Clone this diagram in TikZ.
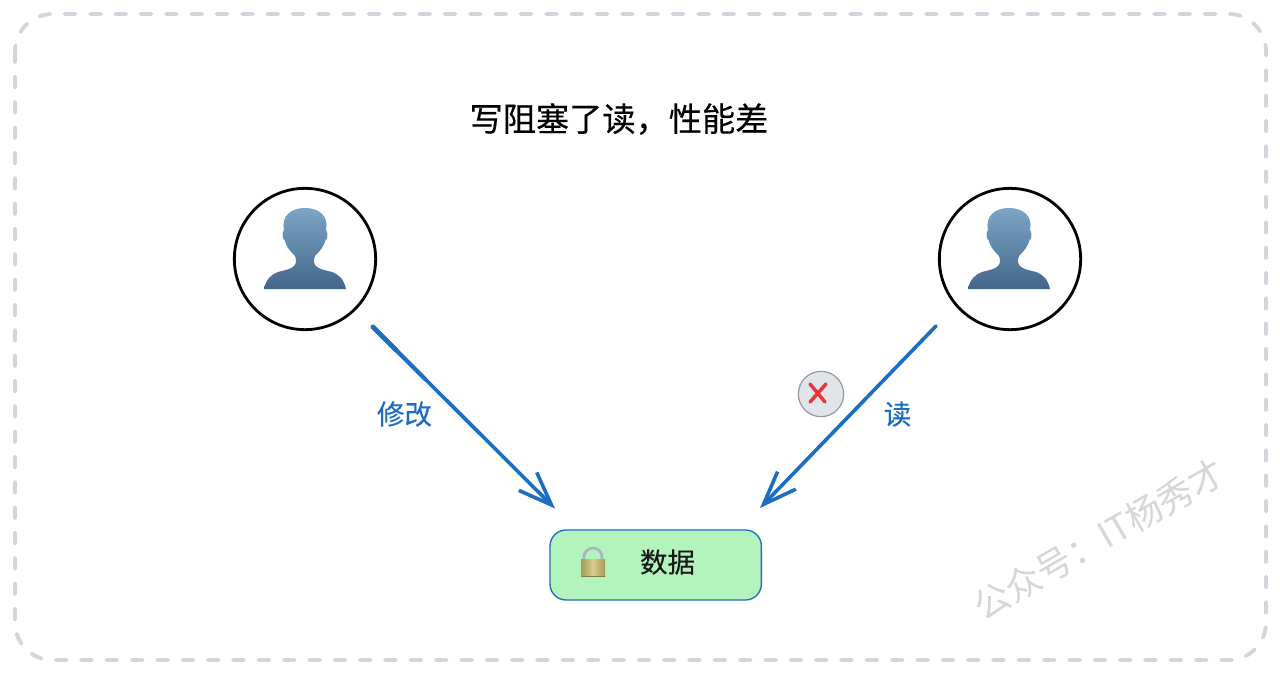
\documentclass[tikz,border=0pt]{standalone}
\usepackage{fontspec}
\setmainfont{Noto Sans CJK SC}
\newfontfamily\medfont[FakeBold=0.25]{Noto Sans CJK SC}
\usetikzlibrary{arrows.meta,shadings,calc}
\definecolor{framec}{HTML}{D1D6DD}
\definecolor{bluec}{HTML}{1B6EC2}
\definecolor{greenc}{HTML}{B2F4BB}
\definecolor{badgec}{HTML}{E1E4E8}
\definecolor{badgeb}{HTML}{9299A1}
\definecolor{crossc}{HTML}{E8343A}
\definecolor{headt}{HTML}{7CA5C6}
\definecolor{headb}{HTML}{43668A}
\definecolor{wmc}{HTML}{D6D6D6}
\definecolor{brassd}{HTML}{A6995A}
\definecolor{brassl}{HTML}{D8CC8C}
\definecolor{shackle}{HTML}{A9B2C4}
\tikzset{
  x=0.75pt,y=-0.75pt,
  frame/.style={draw=framec,line width=2.9pt,line cap=round,dash pattern=on 8.2pt off 10.8pt,rounded corners=28pt},
  person/.style={circle,draw=black,line width=2.1pt,minimum size=106pt,inner sep=0pt},
  flow/.style={draw=bluec,line width=2.7pt,line cap=round,-{Straight Barb[length=25pt,width=19pt,line width=2.7pt]}},
  lbl/.style={text=bluec,font=\medfont\fontsize{20.6pt}{24pt}\selectfont,inner sep=0pt},
  databox/.style={draw=bluec,line width=1pt,fill=greenc,rounded corners=12pt,minimum width=158.5pt,minimum height=52.5pt,inner sep=0pt},
  badge/.style={circle,draw=badgeb,line width=0.9pt,fill=badgec,minimum size=34pt,inner sep=0pt},
  crossline/.style={draw=crossc,line width=2.6pt,line cap=round},
  silhouette/.pic={
    \shade[top color=headt,bottom color=headb,shading angle=0]
      (-41,30) .. controls (-39,21) and (-35,16) .. (-27,13)
      .. controls (-20,11) and (-10,10) .. (-9,3)
      .. controls (-9,1) and (-9,-1) .. (-10,-3)
      .. controls (-15,-8) and (-18.5,-12) .. (-20.5,-19)
      .. controls (-23,-20) and (-23,-27) .. (-21,-29)
      .. controls (-24,-43) and (-14,-51) .. (0,-51)
      .. controls (14,-51) and (24,-43) .. (21,-29)
      .. controls (23,-27) and (23,-20) .. (20.5,-19)
      .. controls (18.5,-12) and (15,-8) .. (10,-3)
      .. controls (9,-1) and (9,1) .. (9,3)
      .. controls (10,10) and (20,11) .. (27,13)
      .. controls (35,16) and (39,21) .. (41,30) -- cycle;
  },
  padlock/.pic={
    \draw[line width=2pt,draw=shackle] (-9,1) -- (-9,-3) arc[start angle=180,end angle=360,radius=9] -- (9,1);
    \shade[left color=brassd,right color=brassd,middle color=brassl] (-12,-1) rectangle (12,16);
    \fill[brassd!80!black] (-12,16) rectangle (12,17);
  }
}
\begin{document}
\begin{tikzpicture}
\useasboundingbox (0,0) rectangle (1280,674);
\fill[white] (0,0) rectangle (1280,674);
\draw[frame] (15,14) rectangle (1266,660);
\node[inner sep=0pt,font=\medfont\fontsize{24.9pt}{28pt}\selectfont] (title) at (619,119) {写阻塞了读，性能差};
\node[person] (left) at (305,259) {};
\node[person] (right) at (1010,259) {};
\pic at (305,259) {silhouette};
\pic at (1009,259) {silhouette};
\node[databox] (data) at (655.7,565) {};
\pic at (593,560) {padlock};
\node[inner sep=0pt,font=\medfont\fontsize{20.6pt}{24pt}\selectfont,text=black!90] (datatext) at (667.5,562) {数据};
\coordinate (lstart) at (373,327);
\coordinate (lend) at (555,508.5);
\coordinate (lmid) at (396,350);
\coordinate (lmidb) at (425,379);
\coordinate (rstart) at (936,326);
\coordinate (rend) at (760,508);
\draw[flow] (lstart) -- (lend);
\draw[bluec,line width=3.7pt,line cap=round] (lstart) -- (lmid);
\draw[bluec,line width=3.1pt,line cap=round] (lmid) -- (lmidb);
\draw[flow] (rstart) -- (rend);
\node[lbl] (modify) at (404.5,414) {修改};
\node[lbl] (read) at (897.5,414) {读};
\node[badge] (badgenode) at (821,394) {};
\draw[crossline] ([shift={(-11,-10)}]badgenode.center) -- ([shift={(4,8)}]badgenode.center);
\draw[crossline] ([shift={(5,-10)}]badgenode.center) -- ([shift={(-11,8)}]badgenode.center);
\node[inner sep=0pt,rotate=30,text=wmc,font=\fontsize{26.8pt}{30pt}\selectfont] (wm) at (1099,539) {公众号：IT杨秀才};
\end{tikzpicture}
\end{document}
